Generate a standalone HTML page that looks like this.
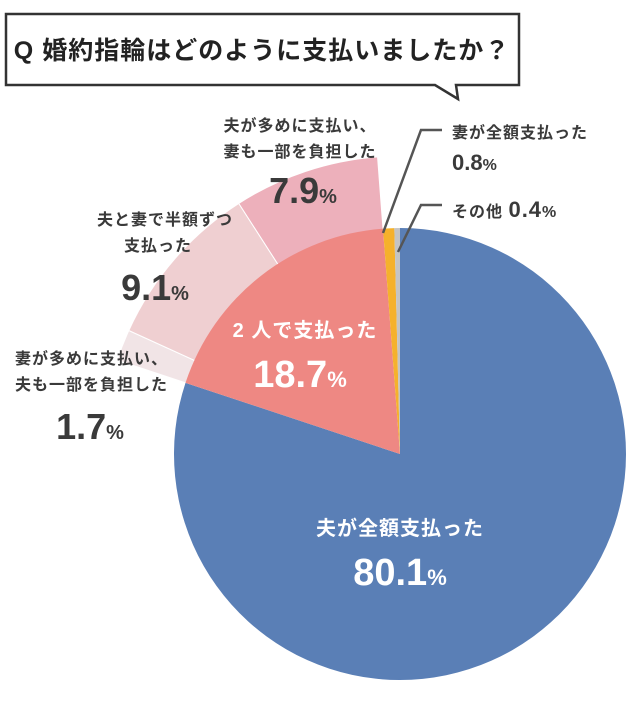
<!DOCTYPE html>
<html><head><meta charset="utf-8"><style>
html,body{margin:0;padding:0;background:#fff;}
svg text{font-family:"Liberation Sans","Noto Sans CJK JP",sans-serif;font-weight:bold;}
</style></head><body>
<svg id="chart" width="640" height="700" viewBox="0 0 640 700" xmlns="http://www.w3.org/2000/svg">
<g>
<path d="M6,14 H519 V85 H456 L458,99 L435,85 H6 Z" fill="#fff" stroke="#333" stroke-width="2.5"/>
<text x="262" y="59" text-anchor="middle" font-size="25" fill="#222" letter-spacing="1">Q 婚約指輪はどのように支払いましたか？</text>
</g>
<g id="slices"></g>
<g id="leaders">
<polyline points="383,233 421,130 442,130" fill="none" stroke="#555" stroke-width="2.5"/>
<polyline points="398,252 421,205 442,205" fill="none" stroke="#555" stroke-width="2.5"/>
</g>
<g fill="#3a3a3a">
<text x="300" y="131" text-anchor="middle" font-size="16" letter-spacing="1">夫が多めに支払い、</text>
<text x="300" y="157" text-anchor="middle" font-size="16" letter-spacing="1">妻も一部を負担した</text>
<text x="303" y="203" text-anchor="middle" font-size="36">7.9<tspan font-size="20">%</tspan></text>
<text x="165" y="225" text-anchor="middle" font-size="16" letter-spacing="1">夫と妻で半額ずつ</text>
<text x="158" y="251" text-anchor="middle" font-size="16" letter-spacing="1">支払った</text>
<text x="155" y="300" text-anchor="middle" font-size="36">9.1<tspan font-size="20">%</tspan></text>
<text x="15" y="364" font-size="16" letter-spacing="1">妻が多めに支払い、</text>
<text x="15" y="390" font-size="16" letter-spacing="1">夫も一部を負担した</text>
<text x="90" y="439" text-anchor="middle" font-size="36">1.7<tspan font-size="20">%</tspan></text>
<text x="452" y="138" font-size="16" letter-spacing="1">妻が全額支払った</text>
<text x="452" y="170" font-size="22">0.8<tspan font-size="16">%</tspan></text>
<text x="452" y="217" font-size="16" letter-spacing="1">その他 <tspan font-size="22">0.4</tspan><tspan font-size="16">%</tspan></text>
</g>
<g fill="#fff">
<text x="305" y="337" text-anchor="middle" font-size="20" letter-spacing="1">2 人で支払った</text>
<text x="300" y="387" text-anchor="middle" font-size="38">18.7<tspan font-size="22">%</tspan></text>
<text x="400" y="535" text-anchor="middle" font-size="20" letter-spacing="1">夫が全額支払った</text>
<text x="400" y="585" text-anchor="middle" font-size="38">80.1<tspan font-size="22">%</tspan></text>
</g>
</svg>
<script>
const mainCategories = ["夫が全額支払った","2人で支払った","妻が全額支払った","その他"];
const mainValues = [80.1, 18.7, 0.8, 0.4];
const subCategories = ["妻が多め","半額ずつ","夫が多め"];
const subValues = [1.7, 9.1, 7.9];
const mainColors = ["#5a7fb6","#ee8883","#f5b12c","#c4c4c4"];
const subColors = ["#f1e4e6","#efcfd1","#edb0bb"];
const cx=400, cy=454, r=226, rOuter=298;
function ang(p){return p/100*2*Math.PI;}
function pt(a,rad){return [cx+rad*Math.sin(a), cy-rad*Math.cos(a)];}
function arc(a0,a1,rad){
  const p0=pt(a0,rad), p1=pt(a1,rad), large=(a1-a0)>Math.PI?1:0;
  return `M${cx},${cy} L${p0[0]},${p0[1]} A${rad},${rad} 0 ${large} 1 ${p1[0]},${p1[1]} Z`;
}
const g=document.getElementById('slices');
const NS="http://www.w3.org/2000/svg";
// outer sub-bands: start where husband-full ends
let s=mainValues[0];
for(let i=0;i<subValues.length;i++){
  const p=document.createElementNS(NS,'path');
  p.setAttribute('d',arc(ang(s),ang(s+subValues[i]),rOuter));
  p.setAttribute('fill',subColors[i]);
  p.setAttribute('stroke','#fff');
  p.setAttribute('stroke-width','1');
  
  
  g.appendChild(p);
  s+=subValues[i];
}
let c=0;
for(let i=0;i<mainValues.length;i++){
  const p=document.createElementNS(NS,'path');
  p.setAttribute('d',arc(ang(c),ang(c+mainValues[i]),r));
  p.setAttribute('fill',mainColors[i]);
  
  
  g.appendChild(p);
  c+=mainValues[i];
}
</script>
</body></html>
